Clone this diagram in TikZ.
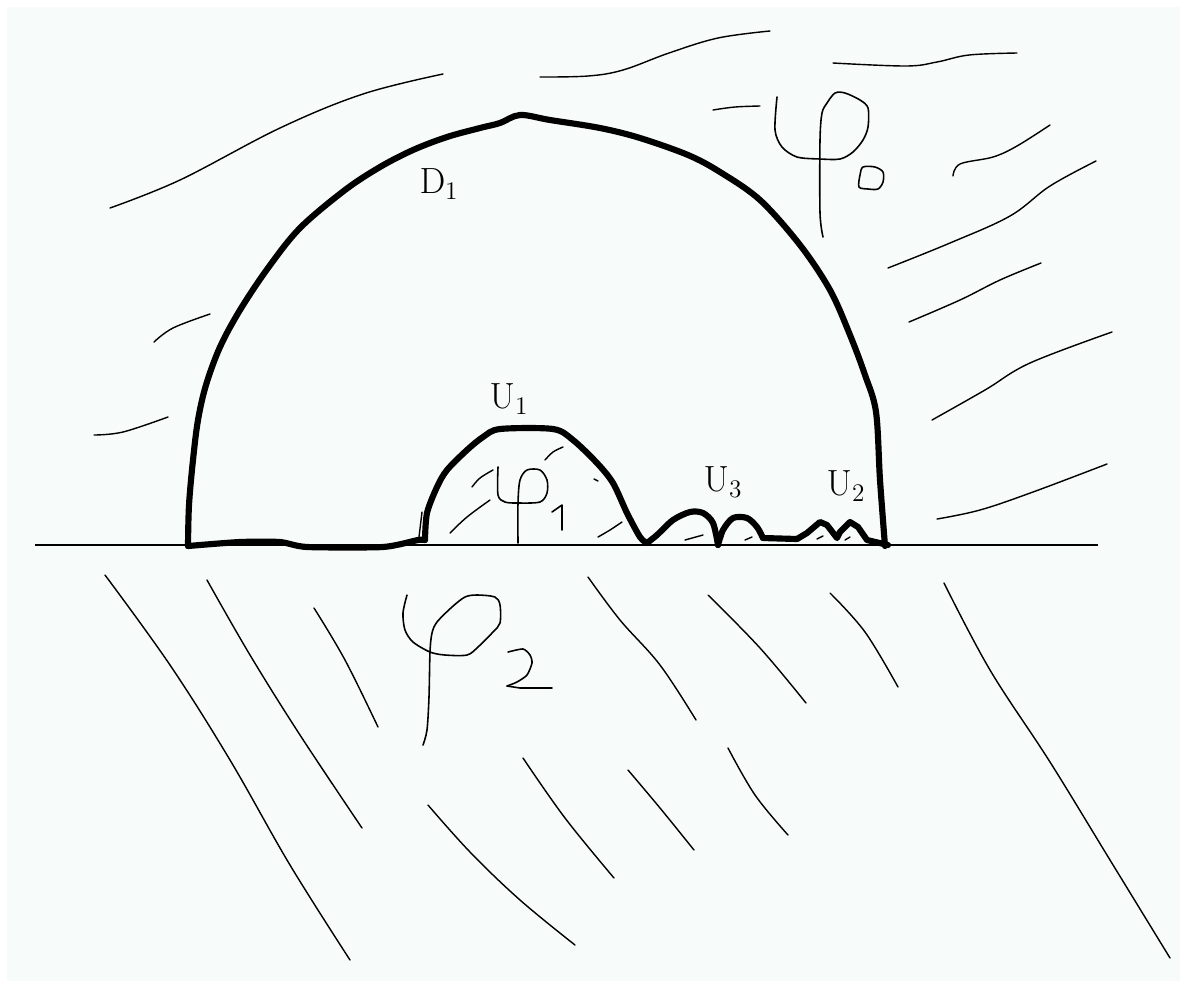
\documentclass[tikz,border=0pt]{standalone}
\usepackage{tikz}
\definecolor{paper}{RGB}{247,251,249}
\begin{document}
\begin{tikzpicture}[x=0.02cm,y=-0.02cm,
  bound/.style={line width=3.5pt,line join=round,line cap=round},
  hatch/.style={line width=0.8pt,line cap=round,line join=round},
  glyph/.style={line width=0.9pt,line cap=round,line join=round},
  ground/.style={line width=1.1pt},
  lbl/.style={inner sep=0pt,font=\fontsize{20}{24}\selectfont}]
\useasboundingbox (0,0) rectangle (1186,988);
\fill[white] (0,0) rectangle (1186,988);
\fill[paper] (7,7) rectangle (1180,981);
% ground line
\coordinate (gl) at (35,545);
\coordinate (gr) at (1098,545);
\draw[ground] (gl) -- (gr);
% D1 arc
\draw[bound] plot[smooth,tension=0.55] coordinates {(188,546) (189,505) (193,460) (198,420) (206,385) (220,347) (240,310) (268,268) (300,228) (345,190) (380,167) (413,150) (447,137) (480,128) (500,123) (520,115) (550,120) (600,128) (640,138) (688,155) (720,172) (760,200) (800,245) (830,290) (850,335) (865,375) (876,412) (880,480) (885,546)};
% bottom with U1
\draw[bound] plot[smooth,tension=0.4] coordinates {(188,546) (240,542) (280,542) (307,547) (383,547) (418,540) (425,540)};
\draw[bound] plot[smooth,tension=0.5] coordinates {(425,540) (427,513) (437,487) (447,470) (467,450) (483,437) (500,429) (553,429) (573,440) (597,463) (613,483) (627,513) (640,537) (647,543)};
% U3 bumps
\draw[bound] plot[smooth,tension=0.5] coordinates {(647,543) (657,535) (673,520) (690,512) (703,513) (713,523) (718,545)};
\draw[bound] plot[smooth,tension=0.5] coordinates {(718,545) (723,530) (733,518) (747,518) (757,527) (763,538)};
\draw[bound] (763,538) -- (797,539);
% U2 bumps
\draw[bound] (797,539) -- (807,533) -- (820,522) -- (827,525) -- (837,538) -- (840,532) -- (850,522) -- (858,527) -- (867,540) -- (888,545);
% labels
\node[lbl] (d1) at (439,184) {$\mathrm{D}_1$};
\node[lbl] (u1) at (509,399) {$\mathrm{U}_1$};
\node[lbl] (u3) at (723,482) {$\mathrm{U}_3$};
\node[lbl] (u2) at (846,486) {$\mathrm{U}_2$};
% upper hatching
\draw[hatch] plot[smooth,tension=0.6] coordinates {(110,208) (180,180) (280,128) (363,94) (443,74)};
\draw[hatch] plot[smooth,tension=0.6] coordinates {(540,77) (588,76) (623,70) (669,53) (718,38) (770,31)};
\draw[hatch] plot[smooth,tension=0.6] coordinates {(833,63) (906,66) (937,62) (969,55) (1017,53)};
\draw[hatch] plot[smooth,tension=0.6] coordinates {(713,110) (735,107) (760,106)};
\draw[hatch] plot[smooth,tension=0.6] coordinates {(953,176) (960,164) (993,157) (1017,146) (1050,125)};
\draw[hatch] plot[smooth,tension=0.6] coordinates {(888,268) (950,243) (1010,216) (1050,186) (1096,161)};
\draw[hatch] plot[smooth,tension=0.6] coordinates {(909,322) (960,300) (1000,280) (1041,263)};
\draw[hatch] plot[smooth,tension=0.6] coordinates {(932,420) (985,390) (1030,363) (1112,332)};
\draw[hatch] plot[smooth,tension=0.6] coordinates {(937,519) (980,510) (1033,492) (1107,464)};
\draw[hatch] plot[smooth,tension=0.6] coordinates {(154,342) (173,328) (210,314)};
\draw[hatch] plot[smooth,tension=0.6] coordinates {(94,435) (123,432) (168,417)};
% lower hatching
\draw[hatch] plot[smooth,tension=0.6] coordinates {(105,575) (170,665) (230,760) (290,865) (350,960)};
\draw[hatch] plot[smooth,tension=0.6] coordinates {(207,580) (250,655) (300,735) (362,828)};
\draw[hatch] plot[smooth,tension=0.6] coordinates {(314,608) (345,660) (378,727)};
\draw[hatch] plot[smooth,tension=0.6] coordinates {(428,805) (470,852) (520,900) (575,945)};
\draw[hatch] plot[smooth,tension=0.6] coordinates {(523,758) (565,818) (614,878)};
\draw[hatch] plot[smooth,tension=0.6] coordinates {(588,577) (620,620) (660,665) (696,720)};
\draw[hatch] plot[smooth,tension=0.6] coordinates {(708,595) (760,648) (806,703)};
\draw[hatch] plot[smooth,tension=0.6] coordinates {(830,593) (865,632) (898,687)};
\draw[hatch] plot[smooth,tension=0.6] coordinates {(944,583) (990,670) (1050,762) (1110,860) (1170,958)};
\draw[hatch] plot[smooth,tension=0.6] coordinates {(628,770) (660,808) (694,850)};
\draw[hatch] plot[smooth,tension=0.6] coordinates {(728,748) (755,795) (788,835)};
% hatching inside U1 and bumps
\draw[hatch] plot[smooth,tension=0.6] coordinates {(450,533) (467,517) (490,500)};
\draw[hatch] plot[smooth,tension=0.6] coordinates {(472,487) (480,478) (493,470)};
\draw[hatch] plot[smooth,tension=0.6] coordinates {(545,460) (553,452) (563,447)};
\draw[hatch] (594,479) -- (598,481);
\draw[hatch] plot[smooth,tension=0.6] coordinates {(598,537) (610,530) (622,522)};
\draw[hatch] (422,512) -- (419,537);
\draw[hatch] (685,540) -- (703,535);
\draw[hatch] (745,540) -- (752,537);
\draw[hatch] (817,539) -- (823,536);
\draw[hatch] (845,540) -- (850,537);
% phi 0
\draw[glyph] plot[smooth,tension=0.5] coordinates {(777,97) (775,130) (782,147) (797,157) (820,159) (840,159) (853,152) (863,140) (868,127) (868,108) (860,100) (845,93) (835,93) (827,103) (822,113) (820,140) (820,213) (823,237)};
\draw[glyph] plot[smooth cycle,tension=0.5] coordinates {(863,167) (875,167) (883,172) (883,182) (878,189) (868,189) (859,187) (860,175)};
% phi 1
\draw[glyph] plot[smooth,tension=0.5] coordinates {(498,467) (498,495) (505,502) (518,503) (540,502) (547,493) (547,480) (540,470) (527,470) (520,480) (518,503) (518,543)};
\draw[glyph] (552,512) -- (562,505) -- (562,530);
% phi 2
\draw[glyph] plot[smooth,tension=0.5] coordinates {(407,595) (403,613) (405,630) (413,642) (430,652) (445,655) (467,655) (478,647) (493,632) (500,623) (500,605) (495,597) (477,595) (465,597) (452,607) (437,622) (432,633) (430,652) (429,697) (427,730) (423,745)};
\draw[glyph] plot[smooth,tension=0.4] coordinates {(508,652) (523,649) (530,655) (532,663) (527,675) (517,682) (507,686)};
\draw[glyph] (507,686) -- (520,688) -- (552,688);
\end{tikzpicture}
\end{document}
